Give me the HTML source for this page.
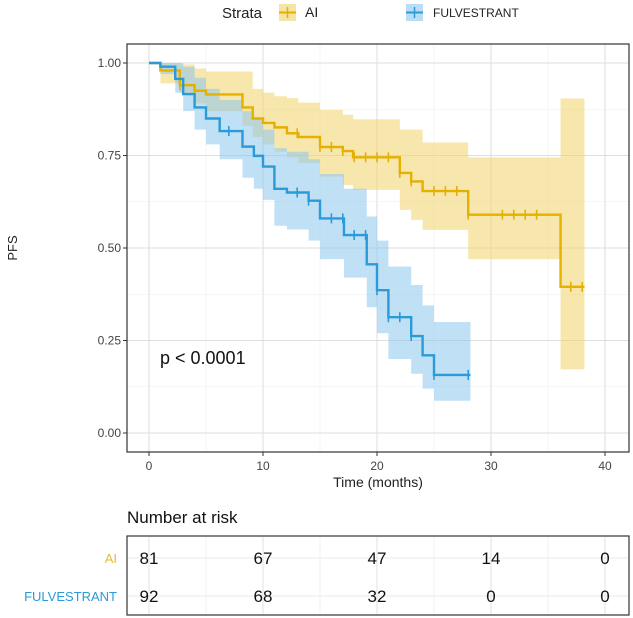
<!DOCTYPE html>
<html><head><meta charset="utf-8"><style>
html,body{margin:0;padding:0;background:#fff;}
svg{display:block;font-family:"Liberation Sans",Arial,sans-serif;}
</style></head><body>
<svg id="chart" width="633" height="618" viewBox="0 0 633 618">
<g id="legend">
  <text x="222" y="18" font-size="15" fill="#222">Strata</text>
  <g>
    <rect x="279" y="4" width="17" height="17" fill="#f4dd8c" opacity="0.8"/>
    <line x1="279" y1="12.5" x2="296" y2="12.5" stroke="#e7b000" stroke-width="2"/>
    <line x1="287.5" y1="7" x2="287.5" y2="18" stroke="#e7b000" stroke-width="1.5"/>
    <text x="305" y="17" font-size="14" fill="#222">AI</text>
  </g>
  <g>
    <rect x="406" y="4" width="17" height="17" fill="#a9d4f2" opacity="0.8"/>
    <line x1="406" y1="12.5" x2="423" y2="12.5" stroke="#2a9ad8" stroke-width="2"/>
    <line x1="414.5" y1="7" x2="414.5" y2="18" stroke="#2a9ad8" stroke-width="1.5"/>
    <text x="433" y="17" font-size="12" fill="#222">FULVESTRANT</text>
  </g>
</g>
<g id="grid"></g>
<g id="bands"></g>
<g id="lines"></g>
<g id="axes"></g>
<rect x="127" y="44" width="502" height="408" fill="none" stroke="#333" stroke-width="1.2"/>
<text x="160" y="364" font-size="18" fill="#111">p &lt; 0.0001</text>
<text transform="translate(17,248) rotate(-90)" text-anchor="middle" font-size="13" fill="#222">PFS</text>
<text x="378" y="487" text-anchor="middle" font-size="14" fill="#222">Time (months)</text>
<text x="127" y="523" font-size="17" fill="#111">Number at risk</text>
<g id="risk"></g>
</svg>
<script>
const aiTimes=[0,1,2.7,4,5,8.2,9.1,10,11,12.1,13.1,15,17,17.9,22,23,24,28,36.1];
const aiSurv=[1,0.98,0.94,0.925,0.915,0.88,0.85,0.838,0.826,0.81,0.80,0.773,0.762,0.745,0.703,0.68,0.654,0.59,0.395];
const aiUpper=[1,1,0.996,0.985,0.977,0.977,0.93,0.92,0.91,0.905,0.893,0.873,0.86,0.848,0.82,0.82,0.785,0.745,0.904];
const aiLower=[1,0.945,0.918,0.891,0.87,0.83,0.80,0.78,0.76,0.745,0.73,0.693,0.67,0.657,0.603,0.576,0.549,0.47,0.172];
const aiEnd=38.2;
const aiCensor=[2.7,4,13,15,16,17,18,19,20,21,22,23,25,26,27,28,31,32,33,34,37,38];
const fuTimes=[0,1,2.3,3,4,5,6.2,8.2,9.2,10,11,12.1,14,15,17.1,19.1,20,21,23,24,25];
const fuSurv=[1,0.99,0.957,0.916,0.88,0.85,0.816,0.774,0.749,0.72,0.66,0.65,0.628,0.58,0.535,0.456,0.386,0.313,0.262,0.21,0.157];
const fuUpper=[1,1,1,0.99,0.96,0.93,0.90,0.87,0.85,0.82,0.77,0.76,0.74,0.70,0.66,0.585,0.52,0.45,0.40,0.345,0.30];
const fuLower=[1,0.97,0.92,0.87,0.82,0.78,0.74,0.69,0.66,0.63,0.56,0.55,0.52,0.47,0.42,0.34,0.27,0.20,0.16,0.12,0.087];
const fuEnd=28.2;
const fuCensor=[7,13,14,16,17,18,19,20,21,22,23,25,28];
const xTicks=[0,10,20,30,40];
const yTicks=[0,0.25,0.5,0.75,1];
const yTickLabels=["0.00","0.25","0.50","0.75","1.00"];
const riskGroups=["AI","FULVESTRANT"];
const riskAI=[81,67,47,14,0];
const riskFU=[92,68,32,0,0];

const NS="http://www.w3.org/2000/svg";
const X=t=>149+t*11.4;
const Y=v=>433-v*370;
function mk(tag,attrs,parent){const e=document.createElementNS(NS,tag);for(const k in attrs)e.setAttribute(k,attrs[k]);parent.appendChild(e);return e;}
const grid=document.getElementById('grid'),bands=document.getElementById('bands'),lines=document.getElementById('lines'),axes=document.getElementById('axes'),risk=document.getElementById('risk');
// grid
for(let t=-5;t<=45;t+=5){const x=X(t);if(x<128||x>628)continue;const major=t%10===0;
  const l=mk('line',{x1:x,x2:x,y1:44,y2:452,stroke:major?'#dedede':'#eeeeee','stroke-width':major?1:0.6},grid);
  }
for(let v=-0.125;v<=1.13;v+=0.125){const y=Y(v);if(y<45||y>451)continue;const major=Math.abs(v*4-Math.round(v*4))<1e-6;
  const l=mk('line',{x1:127,x2:629,y1:y,y2:y,stroke:major?'#dedede':'#eeeeee','stroke-width':major?1:0.6},grid);
  }
// ticks
xTicks.forEach(t=>{const tk=mk('line',{x1:X(t),x2:X(t),y1:452,y2:456,stroke:'#333'},axes);
  
  const tx=mk('text',{x:X(t),y:470,'text-anchor':'middle','font-size':12,fill:'#444'},axes);tx.textContent=t;
  });
yTicks.forEach((v,i)=>{const tk=mk('line',{x1:123,x2:127,y1:Y(v),y2:Y(v),stroke:'#333'},axes);
  
  const tx=mk('text',{x:121,y:Y(v)+4,'text-anchor':'end','font-size':12,fill:'#444'},axes);tx.textContent=yTickLabels[i];
  });
function band(times,up,lo,end,fill,name){
  let top='',bot=[];
  for(let i=0;i<times.length;i++){const x0=X(times[i]),x1=X(i+1<times.length?times[i+1]:end);
    top+=(i?'L':'M')+x0+','+Y(up[i])+'L'+x1+','+Y(up[i]);
    bot.unshift('L'+x1+','+Y(lo[i])+'L'+x0+','+Y(lo[i]));}
  const p=mk('path',{d:top+bot.join('')+'Z',fill:fill,opacity:0.55},bands);
  }
function curve(times,s,end,cens,col,name){
  let d='';
  for(let i=0;i<times.length;i++){const x0=X(times[i]),x1=X(i+1<times.length?times[i+1]:end);
    d+=(i?'L':'M')+x0+','+Y(s[i])+'L'+x1+','+Y(s[i]);}
  const p=mk('path',{d:d,fill:'none',stroke:col,'stroke-width':2.4},lines);
  
  cens.forEach(t=>{let v=s[0];for(let i=0;i<times.length;i++)if(times[i]<=t+1e-9)v=s[i];
    const c=mk('line',{x1:X(t),x2:X(t),y1:Y(v)-5,y2:Y(v)+5,stroke:col,'stroke-width':1.6},lines);
    });}
band(aiTimes,aiUpper,aiLower,aiEnd,'#f0d36a','ci-band-ai');
band(fuTimes,fuUpper,fuLower,fuEnd,'#8cc6ee','ci-band-fulvestrant');
curve(aiTimes,aiSurv,aiEnd,aiCensor,'#e5b000','curve-ai');
curve(fuTimes,fuSurv,fuEnd,fuCensor,'#2a9ad8','curve-fulvestrant');
// risk table
const rb=mk('rect',{x:127,y:536,width:502,height:79,fill:'none',stroke:'#333','stroke-width':1.2},risk);

for(let t=0;t<=40;t+=5){const l=mk('line',{x1:X(t),x2:X(t),y1:537,y2:614,stroke:t%10===0?'#e2e2e2':'#f0f0f0'},risk);
  }
[558,596].forEach(y=>{const l=mk('line',{x1:128,x2:628,y1:y,y2:y,stroke:'#e8e8e8'},risk);
  });
const rowY=[558,596],rowCol=['#e1bc3a','#2a9ad8'],rowData=[riskAI,riskFU];
riskGroups.forEach((g,r)=>{
  const lb=mk('text',{x:117,y:rowY[r]+5,'text-anchor':'end','font-size':13,fill:rowCol[r]},risk);lb.textContent=g;
  
  rowData[r].forEach((n,i)=>{const tx=mk('text',{x:X(xTicks[i]),y:rowY[r]+6,'text-anchor':'middle','font-size':17,fill:'#111'},risk);tx.textContent=n;
    });});
</script>
</body></html>
